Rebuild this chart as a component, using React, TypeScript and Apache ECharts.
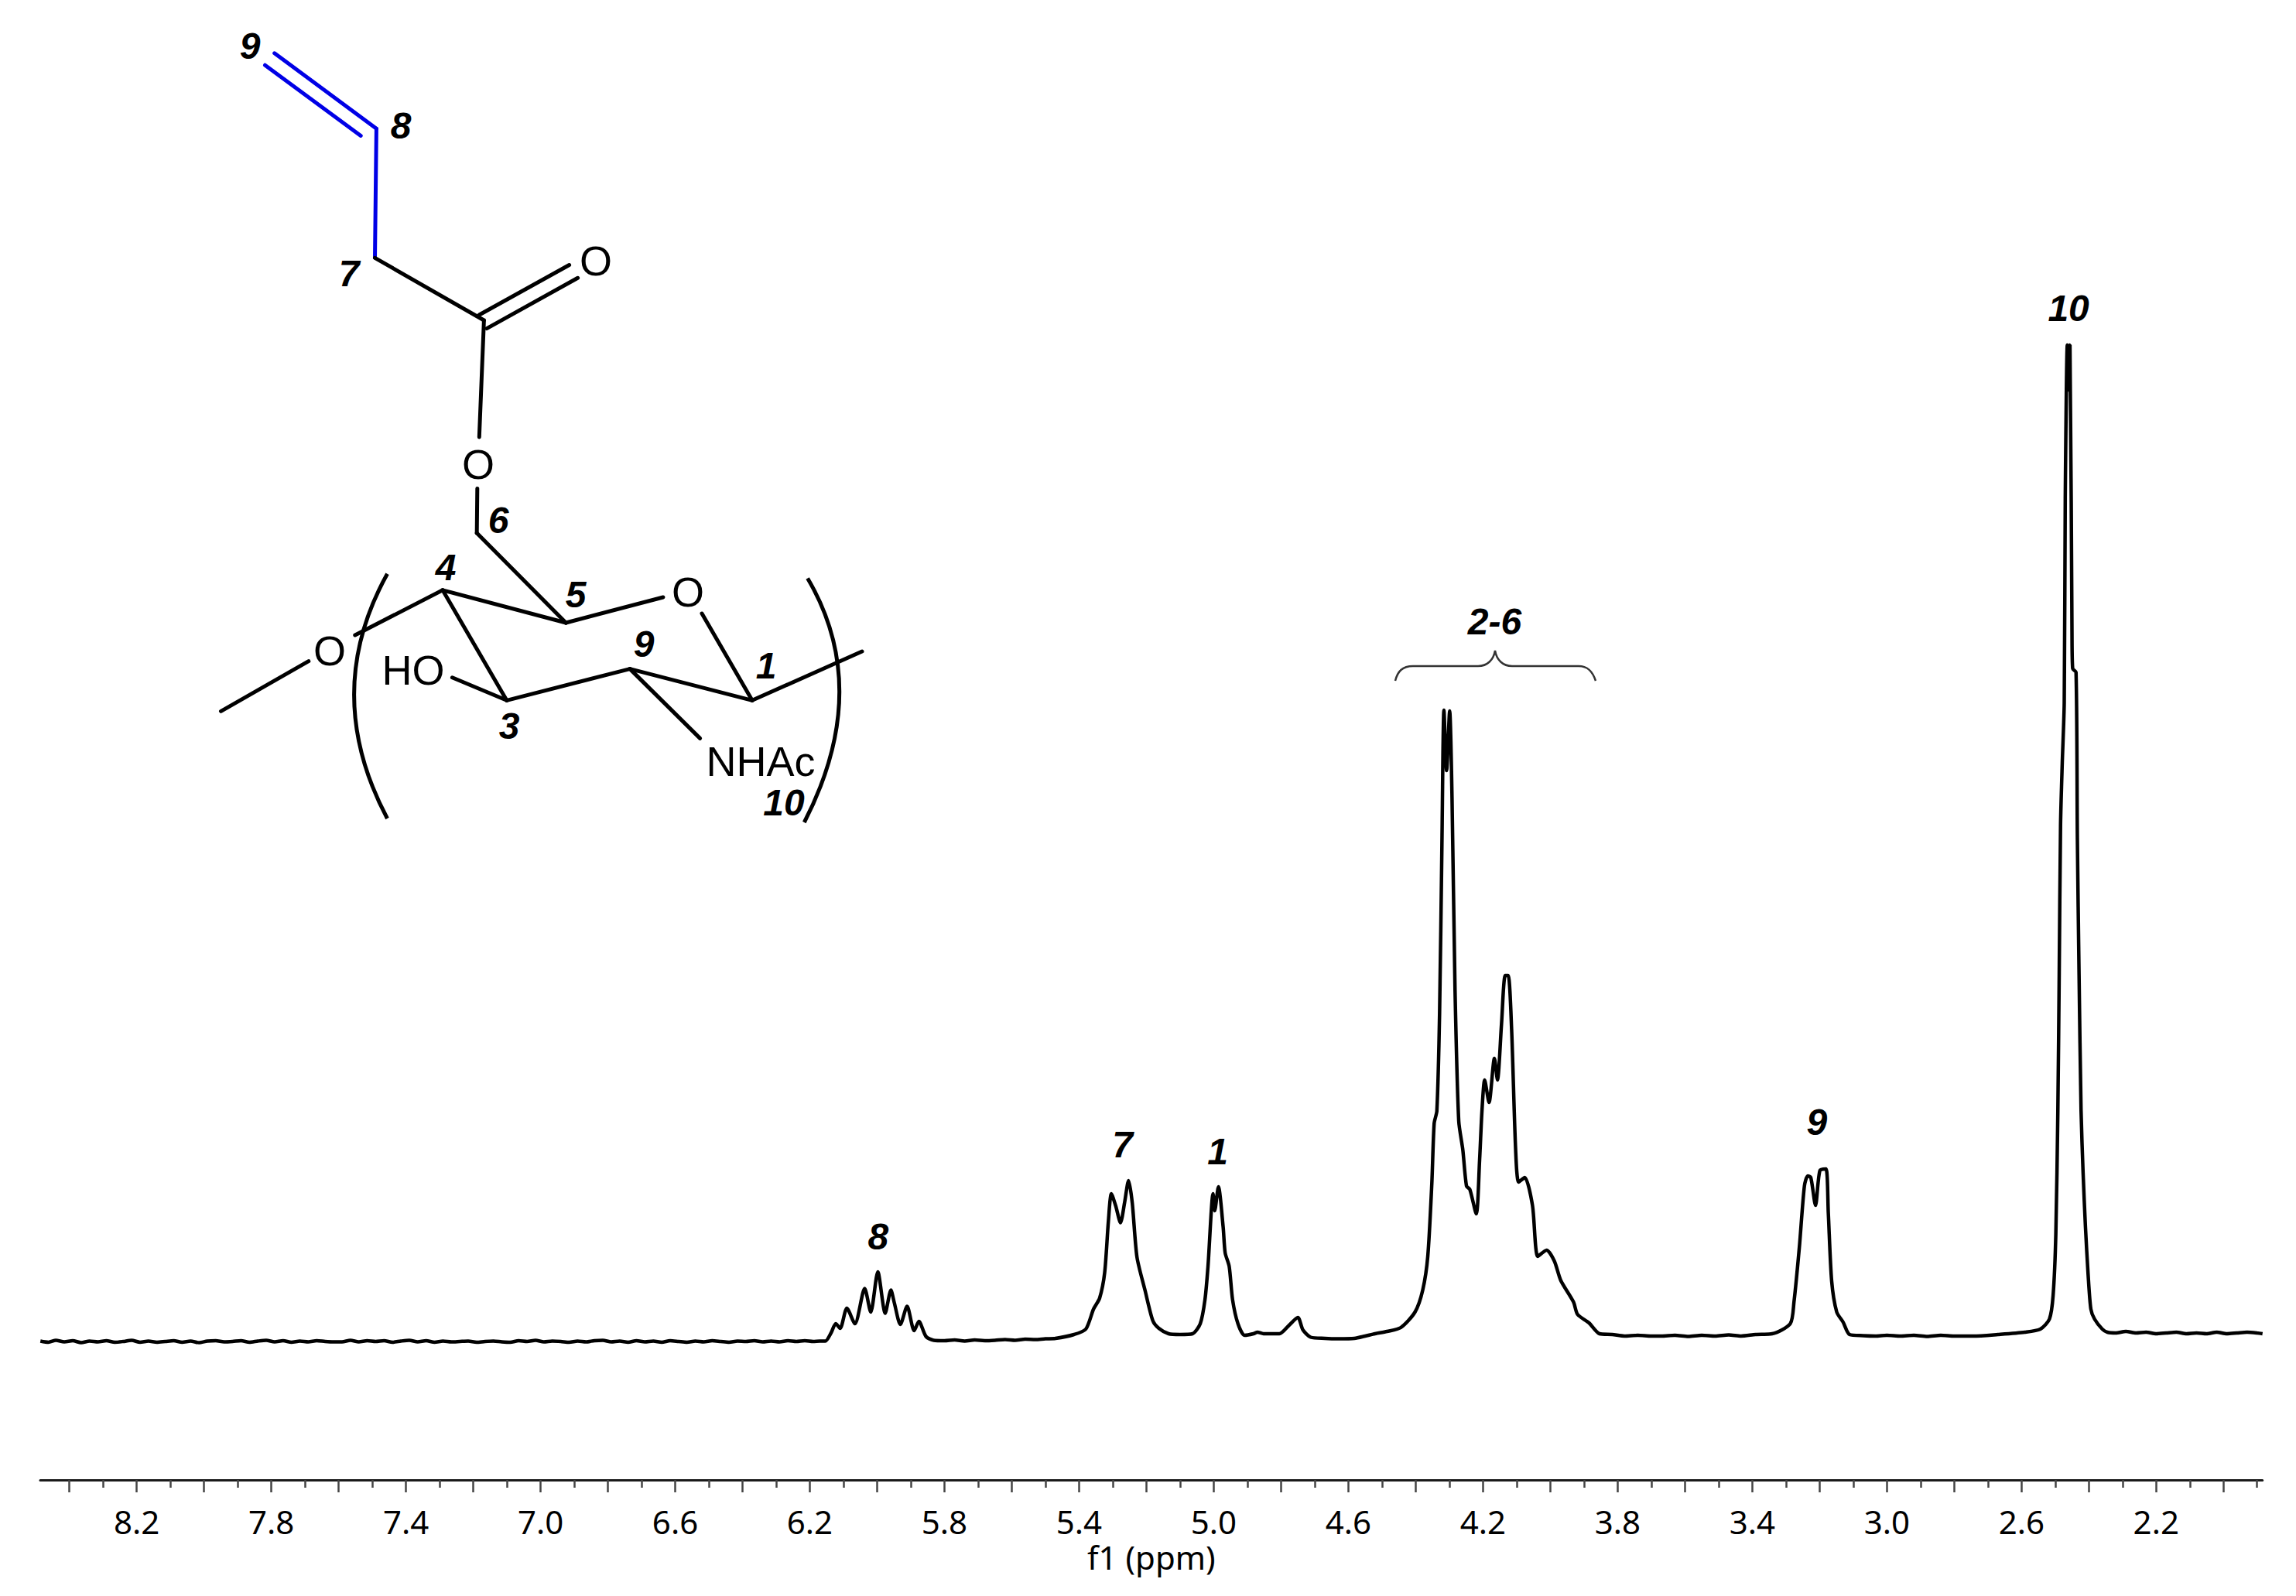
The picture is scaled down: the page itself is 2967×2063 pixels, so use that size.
import React, { useEffect, useRef } from "react";
import * as echarts from "echarts";

// Chemical shift axis
const ppmMin = 1.884;
const ppmMax = 8.4865;
const majorTickPpm = [8.4,8.2,8.0,7.8,7.6,7.4,7.2,7.0,6.8,6.6,6.4,6.2,6.0,5.8,5.6,5.4,5.2,5.0,4.8,4.6,4.4,4.2,4.0,3.8,3.6,3.4,3.2,3.0,2.8,2.6,2.4,2.2,2.0];
const minorTickPpm = [8.3,8.1,7.9,7.7,7.5,7.3,7.1,6.9,6.7,6.5,6.3,6.1,5.9,5.7,5.5,5.3,5.1,4.9,4.7,4.5,4.3,4.1,3.9,3.7,3.5,3.3,3.1,2.9,2.7,2.5,2.3,2.1,1.9];
const labelPpm = [8.2,7.8,7.4,7.0,6.6,6.2,5.8,5.4,5.0,4.6,4.2,3.8,3.4,3.0,2.6,2.2];

// Spectrum: [ppm, intensity]
const flatBaseline = [
[8.486,0.5],[8.462,-1],[8.44,1.5],[8.415,-0.5],[8.39,1],[8.365,-1.5],[8.34,0.5],[8.315,-0.5],[8.29,1],[8.265,-1],[8.24,0],[8.215,1.5],[8.19,-1],[8.165,0.5],[8.14,-1],[8.115,0],[8.09,1],[8.065,-1],[8.04,0.5],[8.015,-1.5],[7.99,0.5],[7.965,1],[7.94,-0.5],[7.915,0],[7.89,1],[7.865,-1],[7.84,0.5],[7.815,1.5],[7.79,-0.5],[7.765,1],[7.74,-1],[7.715,0.5],[7.69,-0.5],[7.665,1],[7.64,0],[7.615,-0.5],[7.59,-0.5],[7.565,1.5],[7.54,-0.5],[7.515,1],[7.49,0],[7.465,1],[7.44,-1],[7.415,0.5],[7.39,1.5],[7.365,-0.5],[7.34,1],[7.315,-1],[7.29,0.5],[7.265,-0.5],[7.24,0],[7.215,0.5],[7.19,-1],[7.165,0],[7.14,0.5],[7.115,-0.5],[7.09,-1],[7.065,1],[7.04,0],[7.015,1.5],[6.99,-0.5],[6.965,0.5],[6.94,0],[6.915,-1],[6.89,0.5],[6.865,-0.5],[6.84,1],[6.815,1.5],[6.79,-0.5],[6.765,0.5],[6.74,-1],[6.715,1],[6.69,-0.5],[6.665,0.5],[6.64,-1],[6.615,1],[6.59,0],[6.565,-1],[6.54,0.5],[6.515,-0.5],[6.49,1],[6.465,0],[6.44,-1],[6.415,0.5],[6.39,0],[6.365,1],[6.34,-0.5],[6.315,0.5],[6.29,-0.5],[6.265,1],[6.24,0],[6.215,1],[6.19,0],[6.17,0.5]
];
const signal8 = [
[6.154,0.5],[6.137,11],[6.123,23],[6.11,17],[6.09,43],[6.066,23],[6.037,68.5],[6.019,38],[5.998,90],[5.976,36.5],[5.959,66.5],[5.949,50],[5.931,22],[5.911,45.5],[5.89,14],[5.876,26],[5.855,6.5],[5.832,1.5]
];
const quietBand = [
[5.8,1],[5.77,2],[5.74,0.5],[5.71,2],[5.68,1],[5.65,1.5],[5.62,2.5],[5.59,1.5],[5.56,3],[5.53,2.5],[5.5,3.5],[5.47,4]
];
const signal7 = [
[5.415,9],[5.38,16],[5.357,42],[5.339,56],[5.324,89],[5.313,155],[5.304,191],[5.291,175],[5.277,153.5],[5.265,179],[5.253,208],[5.242,179],[5.228,109],[5.204,66],[5.181,27],[5.163,17],[5.134,10],[5.1,9],[5.063,10]
];
const signal1 = [
[5.04,23],[5.026,54],[5.017,97],[5.002,191],[4.997,169],[4.986,200],[4.972,148],[4.966,114.5],[4.954,97],[4.944,54],[4.928,23],[4.908,8],[4.882,10],[4.87,12],[4.852,10],[4.805,10],[4.776,21],[4.75,31],[4.735,15],[4.712,5.5],[4.67,4],[4.629,3.5],[4.582,4]
];
const signal26 = [
[4.55,7],[4.521,10],[4.485,13],[4.444,18],[4.402,38],[4.379,66.5],[4.364,110],[4.352,204],[4.345,282],[4.337,298],[4.329,423],[4.322,641],[4.316,816],[4.308,738],[4.299,815],[4.292,704],[4.283,454],[4.272,285],[4.26,248],[4.249,201],[4.239,196.5],[4.22,165],[4.21,235],[4.203,298],[4.195,338],[4.182,309],[4.166,366],[4.157,338],[4.145,410],[4.134,473],[4.125,473],[4.115,404],[4.103,248],[4.094,206],[4.076,212],[4.053,176],[4.037,110],[4.011,118],[3.988,104],[3.969,79],[3.931,51],[3.919,35],[3.885,24],[3.854,10],[3.816,9],[3.78,7],[3.74,8],[3.7,7],[3.67,7],[3.63,8],[3.59,6.5],[3.55,8],[3.51,7],[3.47,8.5],[3.433,7]
];
const signal9 = [
[3.39,9],[3.341,10],[3.287,23],[3.276,51],[3.26,122],[3.245,201],[3.235,214],[3.226,212],[3.212,176],[3.199,221],[3.181,223],[3.174,166],[3.164,78],[3.149,38],[3.13,25],[3.111,9],[3.07,7.5],[3.034,7],[3.0,8],[2.96,7],[2.92,8],[2.88,6.5],[2.84,8],[2.8,7],[2.743,7]
];
const signal10 = [
[2.67,9],[2.59,12],[2.544,16],[2.517,29],[2.506,60],[2.498,139],[2.492,298],[2.488,474],[2.484,667],[2.479,747],[2.473,826],[2.47,1090],[2.464,1288],[2.46,1230],[2.456,1288],[2.45,914],[2.448,870],[2.438,865],[2.434,650],[2.429,474],[2.423,298],[2.417,218],[2.41,148],[2.402,86],[2.394,42],[2.383,29],[2.36,16],[2.345,12]
];
const tailBaseline = [
[2.32,11],[2.29,13],[2.26,11],[2.23,12],[2.2,10],[2.17,11],[2.14,12],[2.11,10],[2.08,11],[2.05,10],[2.02,12],[1.99,10],[1.96,11],[1.93,12],[1.9,11],[1.884,10]
];
const spectrum = [...flatBaseline, ...signal8, ...quietBand, ...signal7, ...signal1, ...signal26, ...signal9, ...signal10, ...tailBaseline];

// Peak assignments: name, ppm, height of the label above the baseline
const peakNames = ["8", "7", "1", "2-6", "9", "10"];
const peakPpm = [5.996, 5.27, 4.987, 4.164, 3.207, 2.459];
const peakHeight = [135, 254, 245, 930, 283, 1335];

// Structure drawing, in page pixels
const blueBonds = [
  [354.7, 68.8, 486.4, 166.3],
  [342.5, 84.2, 466.2, 175.4],
  [486.4, 166.3, 484.5, 333.3],
];
const blackBonds = [
  [484.5, 333.3, 625.4, 414],
  [619.3, 407, 735.6, 342.5],
  [629, 424.6, 746.6, 359.3],
  [625.4, 414, 619.3, 565],
  [616.8, 631.6, 616.2, 689],
  [616.2, 689, 731.3, 805],
  [731.3, 805, 856.9, 772],
  [907, 793, 972, 905.3],
  [972, 905.3, 814, 864.6],
  [814, 864.6, 654.8, 905.3],
  [654.8, 905.3, 572, 762.8],
  [572, 762.8, 731.3, 805],
  [572, 762.8, 458.8, 821],
  [398.8, 854.7, 285.5, 919.3],
  [584.4, 875.8, 654.8, 905.3],
  [814, 864.6, 904.6, 954.4],
  [972, 905.3, 1114, 842],
];
const atoms = [
  { t: "O", x: 770, y: 337 },
  { t: "O", x: 618, y: 600 },
  { t: "O", x: 889, y: 765 },
  { t: "O", x: 426, y: 841 },
  { t: "HO", x: 534, y: 866 },
  { t: "NHAc", x: 983, y: 984 },
];
const positions = [
  { t: "9", x: 323, y: 59 },
  { t: "8", x: 518, y: 162 },
  { t: "7", x: 451, y: 353 },
  { t: "6", x: 644, y: 672 },
  { t: "4", x: 576, y: 733 },
  { t: "5", x: 744, y: 768 },
  { t: "9", x: 832, y: 832 },
  { t: "1", x: 990, y: 860 },
  { t: "3", x: 658, y: 938 },
  { t: "10", x: 1013, y: 1037 },
];

const bracePath =
  "M1803 880 C1806 868 1812 861 1826 861 L1910 861 C1922 861 1930 853 1932 841 C1934 853 1942 861 1954 861 L2040 861 C2052 861 2058 868 2062 880";
const parenPath = "M500.5 741.8 Q414.7 896 500.5 1058 M1043.6 747.4 Q1127.9 890.8 1039.3 1063";

echarts.graphic.registerShape("nmrBrace", echarts.graphic.extendPath(bracePath, {}));
echarts.graphic.registerShape("polyParens", echarts.graphic.extendPath(parenPath, {}));

const SANS = "'Liberation Sans', Arial, sans-serif";
const AXIS_FONT = "'Noto Sans', sans-serif";

export default function App() {
  const ref = useRef<HTMLDivElement>(null);

  useEffect(() => {
    const chart = echarts.init(ref.current!, undefined, { renderer: "svg" });
    const bond = (b: number[], stroke: string, lineWidth: number) => ({
      type: "line",
      shape: { x1: b[0], y1: b[1], x2: b[2], y2: b[3] },
      style: { stroke, lineWidth, lineCap: "round" },
    });
    chart.setOption({
      animation: false,
      backgroundColor: "#fff",
      grid: { left: 52, width: 2871.7, top: 0, height: 1913, containLabel: false },
      xAxis: [
        {
          type: "value",
          min: ppmMin,
          max: ppmMax,
          inverse: true,
          position: "bottom",
          splitLine: { show: false },
          axisLine: { show: true, onZero: false, lineStyle: { color: "#1a1a1a", width: 3 } },
          axisTick: {
            show: true,
            length: 16,
            customValues: majorTickPpm,
            lineStyle: { color: "#444", width: 2.5 },
          },
          axisLabel: {
            show: true,
            margin: 32,
            customValues: labelPpm,
            formatter: (v: number) => v.toFixed(1),
            color: "#000",
            fontFamily: AXIS_FONT,
            fontSize: 42,
          },
          name: "f1 (ppm)",
          nameLocation: "center",
          nameGap: 74,
          nameTextStyle: { color: "#000", fontFamily: AXIS_FONT, fontSize: 42 },
        },
        {
          type: "value",
          min: ppmMin,
          max: ppmMax,
          inverse: true,
          position: "bottom",
          splitLine: { show: false },
          axisLine: { show: false, onZero: false },
          axisTick: {
            show: true,
            length: 10,
            customValues: minorTickPpm,
            lineStyle: { color: "#444", width: 2.5 },
          },
          axisLabel: { show: false },
        },
      ],
      yAxis: { type: "value", min: -179, max: 1734, show: false },
      series: [
        {
          type: "line",
          data: spectrum,
          showSymbol: false,
          smooth: 0.25,
          lineStyle: { color: "#000", width: 4.5 },
          silent: true,
        },
        {
          type: "scatter",
          symbolSize: 1,
          itemStyle: { color: "transparent", opacity: 1 },
          data: peakNames.map((name, i) => ({ name, value: [peakPpm[i], peakHeight[i]] })),
          label: {
            show: true,
            position: [0, 0],
            align: "center",
            verticalAlign: "middle",
            formatter: (p: any) => p.name,
            color: "#000",
            fontFamily: SANS,
            fontStyle: "italic",
            fontWeight: "bold",
            fontSize: 48,
          },
          silent: true,
        },
      ],
      graphic: [
        ...blueBonds.map((b) => bond(b, "#0000e6", 5)),
        ...blackBonds.map((b) => bond(b, "#000", 5)),
        {
          type: "polyParens",
          x: 0,
          y: 0,
          style: { fill: "none", stroke: "#000", lineWidth: 5 },
        },
        {
          type: "nmrBrace",
          x: 0,
          y: 0,
          style: { fill: "none", stroke: "#333", lineWidth: 2.5 },
        },
        ...atoms.map((a) => ({
          type: "text",
          x: a.x,
          y: a.y,
          style: {
            text: a.t,
            fill: "#000",
            font: `54px ${SANS}`,
            align: "center",
            verticalAlign: "middle",
          },
        })),
        ...positions.map((a) => ({
          type: "text",
          x: a.x,
          y: a.y,
          style: {
            text: a.t,
            fill: "#000",
            font: `italic bold 48px ${SANS}`,
            align: "center",
            verticalAlign: "middle",
          },
        })),
      ],
    });
    return () => chart.dispose();
  }, []);

  return <div ref={ref} style={{ position: "absolute", left: 0, top: 0, width: 2967, height: 2063 }} />;
}
